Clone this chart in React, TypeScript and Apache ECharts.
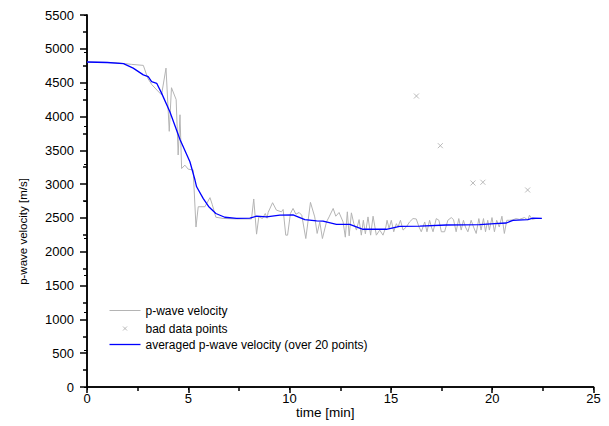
import React, { useEffect, useRef } from "react";
import * as echarts from "echarts";

const rawTime = [0, 0.5, 1.0, 1.5, 1.9, 2.2, 2.78, 3.0, 3.2, 3.45, 3.68, 3.9, 4.06, 4.17, 4.4, 4.5, 4.59, 4.67, 4.83, 5.0, 5.24, 5.38, 5.49, 5.82, 6.07, 6.18, 6.36, 6.72, 7.38, 8.12, 8.23, 8.37, 8.48, 8.66, 8.8, 8.89, 8.94, 9.16, 9.35, 9.6, 9.68, 9.81, 9.9, 10.04, 10.17, 10.31, 10.47, 10.6, 10.8, 11.03, 11.24, 11.36, 11.49, 11.62, 11.82, 11.95, 12.15, 12.28, 12.44, 12.64, 12.75, 12.85, 12.94, 13.05, 13.17, 13.3, 13.43, 13.54, 13.64, 13.74, 13.87, 14.0, 14.12, 14.28, 14.45, 14.61, 14.75, 14.81, 14.91, 15.02, 15.14, 15.27, 15.35, 15.47, 15.6, 15.76, 15.92, 16.09, 16.25, 16.39, 16.5, 16.67, 16.78, 16.91, 17.0, 17.08, 17.24, 17.37, 17.49, 17.65, 17.81, 17.98, 18.09, 18.22, 18.35, 18.47, 18.58, 18.68, 18.8, 18.96, 19.08, 19.21, 19.34, 19.45, 19.57, 19.67, 19.78, 19.86, 19.99, 20.11, 20.22, 20.35, 20.48, 20.6, 20.72, 20.85, 21.01, 21.18, 21.34, 21.59, 21.76, 21.84, 21.97, 22.17, 22.45];
const rawVelocity = [4805, 4802, 4798, 4792, 4780, 4770, 4755, 4565, 4470, 4390, 4320, 4715, 3780, 4425, 4250, 3430, 4025, 3230, 3280, 3220, 3210, 2365, 2665, 2665, 2800, 2700, 2510, 2492, 2485, 2485, 2780, 2260, 2515, 2492, 2565, 2495, 2580, 2725, 2615, 2590, 2625, 2245, 2245, 2565, 2640, 2555, 2580, 2540, 2195, 2730, 2515, 2270, 2440, 2195, 2440, 2515, 2640, 2525, 2580, 2440, 2215, 2590, 2235, 2575, 2415, 2320, 2475, 2245, 2465, 2265, 2515, 2245, 2525, 2245, 2320, 2245, 2365, 2465, 2345, 2465, 2295, 2415, 2365, 2465, 2320, 2365, 2440, 2490, 2485, 2365, 2295, 2440, 2295, 2465, 2365, 2295, 2490, 2465, 2295, 2295, 2465, 2505, 2475, 2295, 2490, 2320, 2465, 2365, 2295, 2465, 2365, 2270, 2490, 2320, 2490, 2295, 2465, 2320, 2505, 2295, 2465, 2365, 2525, 2270, 2465, 2465, 2470, 2490, 2478, 2505, 2470, 2540, 2478, 2492, 2492];

const badTime = [16.26, 17.44, 19.05, 19.54, 21.75];
const badVelocity = [4302, 3568, 3016, 3027, 2913];

const avgTime = [0, 1.0, 1.8, 2.28, 2.78, 3.02, 3.19, 3.44, 3.68, 4.09, 4.59, 5.08, 5.33, 5.41, 5.74, 6.0, 6.36, 6.8, 7.38, 8.04, 8.37, 8.86, 9.52, 10.17, 10.75, 11.33, 11.65, 12.31, 12.97, 13.62, 14.78, 15.43, 16.42, 17.74, 19.38, 20.12, 20.7, 21.02, 21.76, 22.0, 22.45];
const avgVelocity = [4805, 4798, 4780, 4715, 4615, 4590, 4515, 4490, 4345, 4070, 3660, 3330, 3060, 2960, 2785, 2670, 2565, 2510, 2492, 2497, 2525, 2515, 2540, 2545, 2475, 2455, 2452, 2405, 2405, 2332, 2332, 2375, 2380, 2395, 2400, 2415, 2425, 2465, 2475, 2495, 2492];

const xTicks = { min: 0, max: 25, interval: 5 };
const yTicks = { min: 0, max: 5500, interval: 500 };

const seriesNames = [
  "p-wave velocity",
  "bad data points",
  "averaged p-wave velocity (over 20 points)",
];

const FONT = "'Liberation Sans', Arial, sans-serif";
const GREY = "#b4b4b4";
const BLUE = "#0000ff";
const lineIcon = "path://M0,0M31,12M0,6L31,6";
const crossIcon = "path://M0,0M31,12M13.5,4L17.5,8M17.5,4L13.5,8";
const crossSymbol = "path://M0,0L10,10M10,0L0,10";

export default function App() {
  const ref = useRef<HTMLDivElement>(null);
  useEffect(() => {
    if (!ref.current) return;
    const chart = echarts.init(ref.current, null, { renderer: "svg" });
    const zip = (a: number[], b: number[]) => a.map((t, i) => [t, b[i]]);
    const axisLine = { show: true, lineStyle: { color: "#000", width: 1.5 } };
    const plain = (v: number) => String(v);
    const legendIcons = [
      { icon: lineIcon, itemStyle: { color: "none", borderColor: GREY, borderWidth: 1 } },
      { icon: crossIcon, itemStyle: { color: "none", borderColor: "#aaa", borderWidth: 1 } },
      { icon: lineIcon, itemStyle: { color: "none", borderColor: BLUE, borderWidth: 1.3 } },
    ];
    const legendTops = [302, 320, 336];
    chart.setOption({
      animation: false,
      backgroundColor: "#fff",
      textStyle: { fontFamily: FONT },
      grid: { left: 87, right: 15.5, top: 15, bottom: 39, containLabel: false, outerBoundsMode: "none" },
      legend: seriesNames.map((name, i) => ({
        orient: "vertical",
        left: 107,
        top: legendTops[i],
        itemWidth: 31,
        itemHeight: 12,
        itemGap: 0,
        padding: 0,
        textStyle: { fontFamily: FONT, fontSize: 12, color: "#000", lineHeight: 12 },
        data: [{ name, ...legendIcons[i] }],
      })),
      xAxis: [
        {
          type: "value",
          position: "bottom",
          ...xTicks,
          name: "time [min]",
          nameLocation: "middle",
          nameGap: 18,
          nameMoveOverlap: false,
          nameTextStyle: { fontFamily: FONT, fontSize: 13.5, color: "#000", padding: [0, 30, 0, 0] },
          axisLine,
          axisTick: { show: true, inside: false, length: 6, lineStyle: { color: "#000", width: 1.5 } },
          minorTick: { show: true, splitNumber: 2, length: 4, lineStyle: { color: "#000", width: 1.5 } },
          axisLabel: { fontFamily: FONT, fontSize: 13, color: "#000", margin: 5, formatter: plain },
          splitLine: { show: false },
        },
        {
          type: "value",
          position: "top",
          ...xTicks,
          axisLine,
          axisTick: { show: true, inside: true, length: 3, lineStyle: { color: "#000", width: 1 } },
          axisLabel: { show: false },
          splitLine: { show: false },
        },
      ],
      yAxis: [
        {
          type: "value",
          position: "left",
          ...yTicks,
          name: "p-wave velocity [m/s]",
          nameLocation: "middle",
          nameGap: 58,
          nameMoveOverlap: false,
          nameTextStyle: { fontFamily: FONT, fontSize: 11.5, color: "#000", padding: [0, 61, 0, 0] },
          axisLine,
          axisTick: { show: true, inside: false, length: 7, lineStyle: { color: "#000", width: 1.5 } },
          minorTick: { show: true, splitNumber: 2, length: 4, lineStyle: { color: "#000", width: 1.5 } },
          axisLabel: { fontFamily: FONT, fontSize: 13, color: "#000", margin: 13, formatter: plain },
          splitLine: { show: false },
        },
        {
          type: "value",
          position: "right",
          min: 0,
          max: 5500,
          interval: 550,
          axisLine,
          axisTick: { show: true, inside: true, length: 3, lineStyle: { color: "#000", width: 1 } },
          axisLabel: { show: false },
          splitLine: { show: false },
        },
      ],
      series: [
        {
          name: seriesNames[0],
          type: "line",
          data: zip(rawTime, rawVelocity),
          symbol: "none",
          lineStyle: { color: GREY, width: 1 },
          itemStyle: { color: GREY },
          z: 2,
        },
        {
          name: seriesNames[1],
          type: "scatter",
          data: zip(badTime, badVelocity),
          symbol: crossSymbol,
          symbolSize: 5,
          itemStyle: { color: "none", borderColor: "#aaa", borderWidth: 1 },
          z: 3,
        },
        {
          name: seriesNames[2],
          type: "line",
          data: zip(avgTime, avgVelocity),
          symbol: "none",
          lineStyle: { color: BLUE, width: 1.3 },
          itemStyle: { color: BLUE },
          z: 4,
        },
      ],
    });
    return () => chart.dispose();
  }, []);
  return (
    <div
      ref={ref}
      style={{ position: "absolute", left: 0, top: 0, width: 609, height: 426, background: "#fff" }}
    />
  );
}
